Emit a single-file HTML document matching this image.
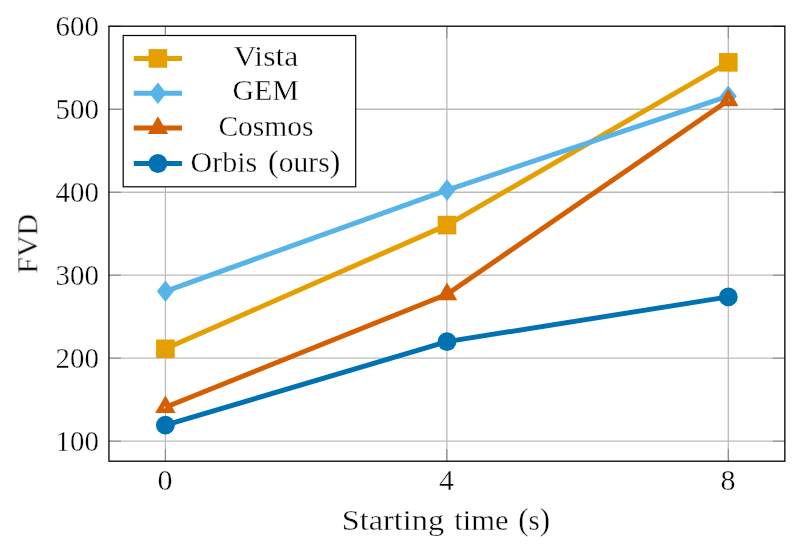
<!DOCTYPE html>
<html><head><meta charset="utf-8"><title>FVD vs starting time</title>
<style>
html,body{margin:0;padding:0;background:#fff;}
body{width:794px;height:555px;overflow:hidden;}
svg{display:block;}
.tx{filter:grayscale(1);}
text{font-family:"Liberation Serif",serif;fill:#000;stroke:#fff;stroke-width:0.35px;}
</style></head><body>
<svg width="794" height="555" viewBox="0 0 794 555">
<rect x="0" y="0" width="794" height="555" fill="#fff"/>
<g stroke="#bcbcbc" stroke-width="1.3" fill="none"><line x1="165.40" y1="26.2" x2="165.40" y2="461.2"/><line x1="446.85" y1="26.2" x2="446.85" y2="461.2"/><line x1="728.30" y1="26.2" x2="728.30" y2="461.2"/><line x1="108.95" y1="441.15" x2="784.85" y2="441.15"/><line x1="108.95" y1="358.18" x2="784.85" y2="358.18"/><line x1="108.95" y1="275.21" x2="784.85" y2="275.21"/><line x1="108.95" y1="192.24" x2="784.85" y2="192.24"/><line x1="108.95" y1="109.27" x2="784.85" y2="109.27"/></g>
<g stroke="#848484" stroke-width="1.0" fill="none"><line x1="165.40" y1="26.2" x2="165.40" y2="38.2"/><line x1="165.40" y1="461.2" x2="165.40" y2="449.2"/><line x1="446.85" y1="26.2" x2="446.85" y2="38.2"/><line x1="446.85" y1="461.2" x2="446.85" y2="449.2"/><line x1="728.30" y1="26.2" x2="728.30" y2="38.2"/><line x1="728.30" y1="461.2" x2="728.30" y2="449.2"/><line x1="108.95" y1="441.15" x2="120.95" y2="441.15"/><line x1="784.85" y1="441.15" x2="772.85" y2="441.15"/><line x1="108.95" y1="358.18" x2="120.95" y2="358.18"/><line x1="784.85" y1="358.18" x2="772.85" y2="358.18"/><line x1="108.95" y1="275.21" x2="120.95" y2="275.21"/><line x1="784.85" y1="275.21" x2="772.85" y2="275.21"/><line x1="108.95" y1="192.24" x2="120.95" y2="192.24"/><line x1="784.85" y1="192.24" x2="772.85" y2="192.24"/><line x1="108.95" y1="109.27" x2="120.95" y2="109.27"/><line x1="784.85" y1="109.27" x2="772.85" y2="109.27"/><line x1="108.95" y1="26.30" x2="120.95" y2="26.30"/><line x1="784.85" y1="26.30" x2="772.85" y2="26.30"/></g>
<path d="M165.40 348.80L447.00 225.10L728.30 62.35" fill="none" stroke="#E69F00" stroke-width="5.0" stroke-linejoin="round"/>
<rect x="156.10" y="339.50" width="18.60" height="18.60" fill="#E69F00"/>
<rect x="437.70" y="215.80" width="18.60" height="18.60" fill="#E69F00"/>
<rect x="719.00" y="53.05" width="18.60" height="18.60" fill="#E69F00"/>
<path d="M165.40 291.30L447.00 190.10L728.30 96.20" fill="none" stroke="#56B4E9" stroke-width="5.0" stroke-linejoin="round"/>
<path d="M165.40 280.50L173.90 291.30L165.40 302.10L156.90 291.30Z" fill="#56B4E9"/>
<path d="M447.00 179.30L455.50 190.10L447.00 200.90L438.50 190.10Z" fill="#56B4E9"/>
<path d="M728.30 85.40L736.80 96.20L728.30 107.00L719.80 96.20Z" fill="#56B4E9"/>
<path d="M165.40 407.20L447.00 294.30L728.30 100.45" fill="none" stroke="#D55E00" stroke-width="5.0" stroke-linejoin="round"/>
<path d="M165.40 400.20L171.46 410.70L159.34 410.70Z" fill="none" stroke="#D55E00" stroke-width="4.8" stroke-linejoin="miter" stroke-miterlimit="10"/>
<path d="M447.00 287.30L453.06 297.80L440.94 297.80Z" fill="none" stroke="#D55E00" stroke-width="4.8" stroke-linejoin="miter" stroke-miterlimit="10"/>
<path d="M728.30 93.45L734.36 103.95L722.24 103.95Z" fill="none" stroke="#D55E00" stroke-width="4.8" stroke-linejoin="miter" stroke-miterlimit="10"/>
<path d="M165.40 425.20L447.00 341.60L728.30 296.90" fill="none" stroke="#0072B2" stroke-width="5.0" stroke-linejoin="round"/>
<circle cx="165.40" cy="425.20" r="9.4" fill="#0072B2"/>
<circle cx="447.00" cy="341.60" r="9.4" fill="#0072B2"/>
<circle cx="728.30" cy="296.90" r="9.4" fill="#0072B2"/>
<rect x="108.95" y="26.2" width="675.90" height="435.00" fill="none" stroke="#000" stroke-width="1.3"/>
<rect x="123.2" y="35.5" width="232.5" height="151.3" fill="#fff" stroke="#000" stroke-width="1.2"/>
<line x1="133.8" y1="58.4" x2="182.0" y2="58.4" stroke="#E69F00" stroke-width="5.0"/>
<rect x="148.60" y="49.10" width="18.60" height="18.60" fill="#E69F00"/>
<line x1="133.8" y1="93.3" x2="182.0" y2="93.3" stroke="#56B4E9" stroke-width="5.0"/>
<path d="M157.90 82.50L166.40 93.30L157.90 104.10L149.40 93.30Z" fill="#56B4E9"/>
<line x1="133.8" y1="128.0" x2="182.0" y2="128.0" stroke="#D55E00" stroke-width="5.0"/>
<path d="M157.90 121.00L163.96 131.50L151.84 131.50Z" fill="none" stroke="#D55E00" stroke-width="4.8" stroke-linejoin="miter" stroke-miterlimit="10"/>
<line x1="133.8" y1="163.5" x2="182.0" y2="163.5" stroke="#0072B2" stroke-width="5.0"/>
<circle cx="157.90" cy="163.50" r="9.4" fill="#0072B2"/>
<g class="tx">
<text x="233.4" y="66.0" font-size="30" text-anchor="start" textLength="65.0" lengthAdjust="spacingAndGlyphs">Vista</text>
<text x="232.4" y="100.4" font-size="30" text-anchor="start" textLength="66.4" lengthAdjust="spacingAndGlyphs">GEM</text>
<text x="218.4" y="135.6" font-size="30" text-anchor="start" textLength="95.0" lengthAdjust="spacingAndGlyphs">Cosmos</text>
<text x="190.6" y="172.3" font-size="30" text-anchor="start" textLength="66.6" lengthAdjust="spacingAndGlyphs">Orbis</text>
<text x="268.1" y="172.3" font-size="30" text-anchor="start" textLength="72.2" lengthAdjust="spacingAndGlyphs"><tspan font-size="32.5">(</tspan>ours<tspan font-size="32.5">)</tspan></text>
<text x="98.9" y="450.85" font-size="30" text-anchor="end" textLength="43.3" lengthAdjust="spacingAndGlyphs">100</text>
<text x="98.9" y="367.88" font-size="30" text-anchor="end" textLength="43.3" lengthAdjust="spacingAndGlyphs">200</text>
<text x="98.9" y="284.91" font-size="30" text-anchor="end" textLength="43.3" lengthAdjust="spacingAndGlyphs">300</text>
<text x="98.9" y="201.94" font-size="30" text-anchor="end" textLength="43.3" lengthAdjust="spacingAndGlyphs">400</text>
<text x="98.9" y="118.97" font-size="30" text-anchor="end" textLength="43.3" lengthAdjust="spacingAndGlyphs">500</text>
<text x="98.9" y="36.0" font-size="30" text-anchor="end" textLength="43.3" lengthAdjust="spacingAndGlyphs">600</text>
<text x="165.1" y="489.7" font-size="30" text-anchor="middle">0</text>
<text x="446.55" y="489.7" font-size="30" text-anchor="middle">4</text>
<text x="728.0" y="489.7" font-size="30" text-anchor="middle">8</text>
<text x="341.8" y="530.1" font-size="30" text-anchor="start" textLength="102.3" lengthAdjust="spacingAndGlyphs">Starting</text>
<text x="454.3" y="530.1" font-size="30" text-anchor="start" textLength="54.2" lengthAdjust="spacingAndGlyphs">time</text>
<text x="518.2" y="530.1" font-size="30" text-anchor="start" textLength="31.8" lengthAdjust="spacingAndGlyphs"><tspan font-size="32.5">(</tspan>s<tspan font-size="32.5">)</tspan></text>
<text transform="translate(37.3 243.8) rotate(-90)" x="0" y="0" font-size="30" text-anchor="middle" textLength="60.0" lengthAdjust="spacingAndGlyphs">FVD</text>
</g>
</svg></body></html>
